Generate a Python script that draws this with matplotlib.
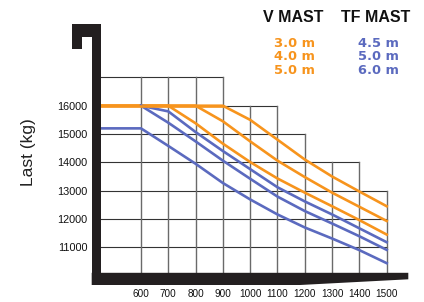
import matplotlib
matplotlib.use("Agg")
import matplotlib.pyplot as plt
from matplotlib.patches import Polygon

# ---- data ----
x_ticks = [600, 700, 800, 900, 1000, 1100, 1200, 1300, 1400, 1500]
y_ticks = [11000, 12000, 13000, 14000, 15000, 16000]

v_labels = ["3.0 m", "4.0 m", "5.0 m"]
tf_labels = ["4.5 m", "5.0 m", "6.0 m"]

v30_x = [455, 900, 1000, 1100, 1200, 1300, 1400, 1500]
v30_y = [16000, 16000, 15500, 14800, 14100, 13500, 12970, 12450]
v40_x = [455, 800, 900, 1000, 1100, 1200, 1300, 1400, 1500]
v40_y = [16000, 16000, 15450, 14740, 14060, 13480, 12930, 12430, 11930]
v50_x = [455, 700, 800, 900, 1000, 1100, 1200, 1300, 1400, 1500]
v50_y = [16000, 16000, 15380, 14660, 14010, 13430, 12930, 12450, 11960, 11450]

tf45_x = [600, 700, 800, 900, 1000, 1100, 1200, 1300, 1400, 1500]
tf45_y = [16000, 15800, 15070, 14400, 13760, 13120, 12620, 12160, 11670, 11180]
tf50_x = [600, 700, 800, 900, 1000, 1100, 1200, 1300, 1400, 1500]
tf50_y = [16000, 15400, 14740, 14060, 13420, 12790, 12280, 11840, 11390, 10910]
tf60_x = [455, 600, 700, 800, 900, 1000, 1100, 1200, 1300, 1400, 1500]
tf60_y = [15200, 15200, 14580, 13950, 13270, 12690, 12160, 11700, 11310, 10900, 10440]

# stepped grid: right end of each horizontal grid line
grid_right = {17000: 900, 16000: 1100, 15000: 1200, 14000: 1400,
              13000: 1500, 12000: 1500, 11000: 1500}

ORANGE = "#F7941D"
BLUE = "#5B6ABF"

W, H = 424, 302
fig = plt.figure(figsize=(W / 100, H / 100), dpi=100)

# main data axes (pixel box: x 101.4..386.7, y 77.4..273.5 from top)
xl, xr, yt, yb = 101.4, 386.7, 77.4, 273.5
ax = fig.add_axes([xl / W, 1 - yb / H, (xr - xl) / W, (yb - yt) / H])
ax.set_xlim(455, 1500)
ax.set_ylim(10075, 17000)
for s in ax.spines.values():
    s.set_visible(False)
ax.patch.set_alpha(0)

# grid
xmin = 455
for yv, xr_ in grid_right.items():
    ax.plot([xmin, xr_], [yv, yv], color="#333333", lw=0.8, zorder=1,
            clip_on=False)
for xv in x_ticks:
    top = max(yv for yv, r in grid_right.items() if r >= xv)
    ax.plot([xv, xv], [10075, top], color="#6a6a6a", lw=1.0, zorder=1,
            clip_on=False)

lw = 1.9
for xs, ys in [(v30_x, v30_y), (v40_x, v40_y), (v50_x, v50_y)]:
    ax.plot(xs, ys, color=ORANGE, lw=lw, zorder=3, clip_on=False,
            solid_joinstyle="round")
for xs, ys in [(tf45_x, tf45_y), (tf50_x, tf50_y), (tf60_x, tf60_y)]:
    ax.plot(xs, ys, color=BLUE, lw=lw, zorder=3, clip_on=False,
            solid_joinstyle="round")
# orange top line drawn again over the blue start
ax.plot(v30_x[:2], v30_y[:2], color=ORANGE, lw=lw, zorder=4, clip_on=False)

ax.set_xticks(x_ticks)
ax.set_xticklabels([str(v) for v in x_ticks], fontsize=7.2,
                   family="Liberation Sans")
ax.set_yticks(y_ticks)
ax.set_yticklabels([str(v) for v in y_ticks], fontsize=7.8,
                   family="Liberation Sans")
ax.tick_params(axis="x", length=0, pad=11.0, colors="#111111")
ax.tick_params(axis="y", length=0, pad=10.2, colors="#111111")

# decoration overlay in pixel coordinates
deco = fig.add_axes([0, 0, 1, 1], zorder=5)
deco.set_xlim(0, W)
deco.set_ylim(H, 0)
deco.axis("off")
deco.patch.set_alpha(0)
BLACK = "#231F20"
hook = Polygon([(71.7, 24.3), (101, 24.3), (101, 284.5), (91.7, 284.5),
                (91.7, 36.7), (81.7, 36.7), (81.7, 49.3), (71.7, 49.3)],
               closed=True, facecolor=BLACK, edgecolor="none")
deco.add_patch(hook)
fork = Polygon([(91.7, 272.8), (408.3, 272.8), (408.3, 279.3),
                (300, 285), (91.7, 285)], closed=True,
               facecolor=BLACK, edgecolor="none")
deco.add_patch(fork)

deco.text(28, 152, "Last (kg)", fontsize=12.5, family="Liberation Sans",
          color="#222222", rotation=90, ha="center", va="center")

# legend-like header text
deco.text(262.7, 21.7, "V MAST", fontsize=11.5, fontweight="bold",
          family="Liberation Sans", color="#111111", ha="left", va="baseline")
deco.text(340.7, 21.7, "TF MAST", fontsize=11.5, fontweight="bold",
          family="Liberation Sans", color="#111111", ha="left", va="baseline")
for i, (a, b) in enumerate(zip(v_labels, tf_labels)):
    yb_ = 46.7 + i * 13.6
    deco.text(274.3, yb_, a, fontsize=9.4, fontweight="bold",
              family="DejaVu Sans", color=ORANGE, ha="left", va="baseline")
    deco.text(358.3, yb_, b, fontsize=9.4, fontweight="bold",
              family="DejaVu Sans", color=BLUE, ha="left", va="baseline")

fig.savefig("out.png", dpi=100)
